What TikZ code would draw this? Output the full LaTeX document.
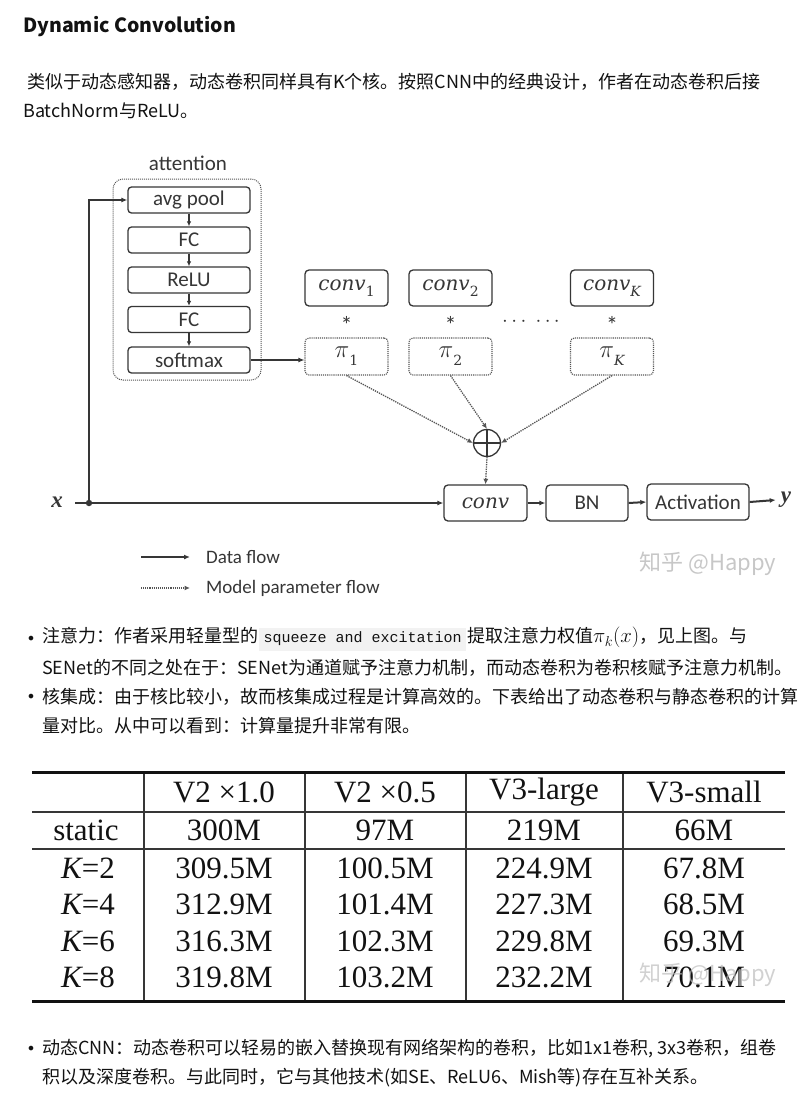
\documentclass[tikz,border=0pt]{standalone}
\usepackage{fontspec}
\setmainfont{Noto Sans CJK SC}
\newfontfamily\carl{Carlito}
\newfontfamily\tms{Liberation Serif}
\newfontfamily\mono{Liberation Mono}
\newfontfamily\djv{DejaVu Sans}
\newfontfamily\dvs{DejaVu Serif}
\newcommand{\msub}[1]{\raisebox{-0.3em}{\dvs\fontsize{14}{14}\selectfont #1}}
\usetikzlibrary{arrows.meta,calc}
\definecolor{txt}{HTML}{121212}
\definecolor{codebg}{HTML}{F2F2F2}
\definecolor{ln}{HTML}{363636}
\definecolor{dl}{HTML}{555555}
\definecolor{wm}{HTML}{BEBEBE}
\begin{document}
\begin{tikzpicture}[x=1pt,y=-1pt,
  body/.style={anchor=west,inner sep=0pt,text=txt,font=\fontsize{18}{22}\selectfont},
  bul/.style={inner sep=0pt,text=txt,font=\djv\fontsize{16}{18}\selectfont},
  abox/.style={draw=ln,line width=1.3pt,rounded corners=3.5pt,inner sep=0pt,minimum width=122pt,minimum height=26pt,text=ln,font=\carl\fontsize{21}{24}\selectfont},
  cbox/.style={draw=ln,line width=1.3pt,rounded corners=4pt,inner sep=0pt,minimum width=83pt,minimum height=36pt,text=ln,font=\dvs\itshape\fontsize{20}{24}\selectfont},
  pbox/.style={draw=dl,densely dotted,line width=1.1pt,rounded corners=4pt,inner sep=0pt,minimum width=83pt,minimum height=37pt,text=ln,font=\fontsize{27}{28}\selectfont},
  mbox/.style={draw=ln,line width=1.3pt,rounded corners=4pt,inner sep=0pt,minimum height=36pt,text=ln,font=\carl\fontsize{21}{24}\selectfont},
  data/.style={draw=ln,line width=2pt,-{Latex[length=6pt,width=5pt]}},
  thin/.style={draw=ln,line width=1.4pt,-{Latex[length=5pt,width=4.5pt]}},
  param/.style={draw=dl,densely dotted,line width=1.3pt,-{Latex[length=5.5pt,width=5pt]}},
  lbl/.style={inner sep=0pt,text=ln,font=\carl\fontsize{21}{24}\selectfont},
  star/.style={inner sep=0pt,text=ln,font=\carl\fontsize{24}{26}\selectfont},
  leg/.style={anchor=west,inner sep=0pt,text=ln,font=\carl\fontsize{19}{22}\selectfont},
  tc/.style={inner sep=0pt,text=txt,font=\tms\fontsize{31}{34}\selectfont},
  wmk/.style={inner sep=0pt,text=wm,font=\fontsize{22}{24}\selectfont,opacity=0.85}
]
\fill[white] (0,0) rectangle (807,1106);
\useasboundingbox (0,0) rectangle (807,1106);

% ---------- heading and paragraph ----------
\node[body,font=\bfseries\fontsize{19.5}{22}\selectfont] (title) at (23,27) {Dynamic Convolution};
\node[body] (p1) at (27,82) {类似于动态感知器，动态卷积同样具有K个核。按照CNN中的经典设计，作者在动态卷积后接};
\node[body] (p2) at (23,111) {BatchNorm与ReLU。};

% ---------- attention block ----------
\node[lbl] (attl) at (188,163) {attention};
\node[draw=dl,densely dotted,line width=1pt,rounded corners=10pt,minimum width=148pt,minimum height=201pt,inner sep=0pt] (att) at (187,279.5) {};
\node[abox] (avg) at (189,200) {avg pool};
\node[abox] (fc1) at (189,240) {FC};
\node[abox] (relu) at (189,280) {ReLU};
\node[abox] (fc2) at (189,319.5) {FC};
\node[abox] (soft) at (189,360) {softmax};
\draw[thin] (avg.south) -- (fc1.north);
\draw[thin] (fc1.south) -- (relu.north);
\draw[thin] (relu.south) -- (fc2.north);
\draw[thin] (fc2.south) -- (soft.north);

% ---------- kernels ----------
\node[cbox] (c1) at (346.5,288) {conv\msub{\upshape 1}};
\node[cbox] (c2) at (450.5,288) {conv\msub{\upshape 2}};
\node[cbox] (cK) at (612,288) {conv\msub{\itshape K}};
\node[star] (s1) at (346.5,325) {*};
\node[star] (s2) at (450.5,325) {*};
\node[star] (sK) at (612,325) {*};
\node[lbl,font=\fontsize{20}{22}\selectfont] (dots) at (531,322) {$\cdots\;\cdots$};
\node[pbox] (p1b) at (346.5,356.5) {$\pi$\msub{1}};
\node[pbox] (p2b) at (450.5,356.5) {$\pi$\msub{2}};
\node[pbox] (pKb) at (612,356.5) {$\pi$\msub{\itshape K}};
\draw[data,line width=1.6pt] (soft.east) -- (soft.east -| p1b.west);

% ---------- aggregation ----------
\node[circle,draw=ln,line width=1.3pt,minimum size=27pt,inner sep=0pt,
  path picture={\draw[ln,line width=1.2pt] (path picture bounding box.north) -- (path picture bounding box.south)
  (path picture bounding box.west) -- (path picture bounding box.east);}] (op) at (487,443) {};
\draw[param] (p1b.south) -- (op.west);
\draw[param] (p2b.south) -- (op.north);
\draw[param] (pKb.south) -- (op.east);

% ---------- main data path ----------
\node[mbox,minimum width=83pt,font=\dvs\itshape\fontsize{20}{24}\selectfont] (conv) at (485.5,503) {conv};
\node[mbox,minimum width=82pt] (bn) at (587,503) {BN};
\node[mbox,minimum width=102pt] (act) at (698,502) {Activation};
\draw[param] (op.south) -- (conv.north);
\node[inner sep=0pt,font=\tms\bfseries\itshape\fontsize{23}{24}\selectfont,text=ln] (xl) at (57,502) {x};
\node[inner xsep=5pt,inner ysep=0pt,font=\tms\bfseries\itshape\fontsize{23}{24}\selectfont,text=ln] (yl) at (786,500) {y};
\coordinate (xs) at (75,503);
\coordinate (j) at (89,503);
\draw[data] (xs) -- (conv.west);
\fill[ln] (j) circle (3.2);
\draw[data] (j) |- (avg.west);
\draw[data] (conv.east) -- (bn.west);
\draw[data] (bn.east) -- (act.west);
\draw[data] (act.east) -- (yl.west);

% ---------- legend ----------
\coordinate (la1) at (141,557);
\coordinate (lb1) at (190,557);
\coordinate (la2) at (141,588);
\coordinate (lb2) at (190,588);
\draw[data,line width=1.6pt] (la1) -- (lb1);
\draw[param,line width=1.1pt] (la2) -- (lb2);
\node[leg] (lg1) at (206,557) {Data flow};
\node[leg] (lg2) at (206,588) {Model parameter flow};
\node[wmk] (wm1) at (708,564) {知乎 @Happy};

% ---------- bullets ----------
\node[bul] (bu1) at (31,640) {•};
\node[body] (t1) at (42,639) {注意力：作者采用轻量型的\hspace{1pt}{\setlength{\fboxsep}{4.5pt}\colorbox{codebg}{\mono\fontsize{15}{18}\selectfont squeeze and excitation}}\hspace{1pt}提取注意力权值{\fontsize{21}{22}\selectfont$\pi_k(x)$}，见上图。与};
\node[body] (t2) at (42,668) {SENet的不同之处在于：SENet为通道赋予注意力机制，而动态卷积为卷积核赋予注意力机制。};
\node[bul] (bu2) at (31,698) {•};
\node[body] (t3) at (42,697) {核集成：由于核比较小，故而核集成过程是计算高效的。下表给出了动态卷积与静态卷积的计算};
\node[body] (t4) at (42,726) {量对比。从中可以看到：计算量提升非常有限。};

% ---------- table ----------
\draw[txt,line width=3pt] (32,772) -- (785,772);
\draw[txt!85,line width=1.6pt] (32,812) -- (785,812);
\draw[txt!85,line width=1.6pt] (32,849) -- (785,849);
\draw[txt,line width=3pt] (32,1001) -- (785,1001);
\foreach \vx in {144,305,466,623} \draw[txt!85,line width=1.3pt] (\vx,773.5) -- (\vx,999.5);
\node[tc] (h1) at (224,792) {V2 ×1.0};
\node[tc] (h2) at (385,792) {V2 ×0.5};
\node[tc] (h3) at (544,792) {V3-large};
\node[tc] (h4) at (704,792) {V3-small};
\node[tc] (r0) at (86,830) {static};
\node[tc] (r0a) at (224,830) {300M};
\node[tc] (r0b) at (385,830) {97M};
\node[tc] (r0c) at (544,830) {219M};
\node[tc] (r0d) at (704,830) {66M};
\node[tc] (r1) at (88,868) {{\itshape K}=2};
\node[tc] (r1a) at (224,868) {309.5M};
\node[tc] (r1b) at (385,868) {100.5M};
\node[tc] (r1c) at (544,868) {224.9M};
\node[tc] (r1d) at (704,868) {67.8M};
\node[tc] (r2) at (88,904) {{\itshape K}=4};
\node[tc] (r2a) at (224,904) {312.9M};
\node[tc] (r2b) at (385,904) {101.4M};
\node[tc] (r2c) at (544,904) {227.3M};
\node[tc] (r2d) at (704,904) {68.5M};
\node[tc] (r3) at (88,941) {{\itshape K}=6};
\node[tc] (r3a) at (224,941) {316.3M};
\node[tc] (r3b) at (385,941) {102.3M};
\node[tc] (r3c) at (544,941) {229.8M};
\node[tc] (r3d) at (704,941) {69.3M};
\node[tc] (r4) at (88,977) {{\itshape K}=8};
\node[tc] (r4a) at (224,977) {319.8M};
\node[tc] (r4b) at (385,977) {103.2M};
\node[tc] (r4c) at (544,977) {232.2M};
\node[tc] (r4d) at (704,977) {70.1M};
\node[wmk,opacity=0.7] (wm2) at (708,975) {知乎 @Happy};

% ---------- last bullet ----------
\node[bul] (bu3) at (31,1050) {•};
\node[body] (t5) at (42,1049) {动态CNN：动态卷积可以轻易的嵌入替换现有网络架构的卷积，比如1x1卷积, 3x3卷积，组卷};
\node[body] (t6) at (42,1078) {积以及深度卷积。与此同时，它与其他技术(如SE、ReLU6、Mish等)存在互补关系。};
\end{tikzpicture}
\end{document}
